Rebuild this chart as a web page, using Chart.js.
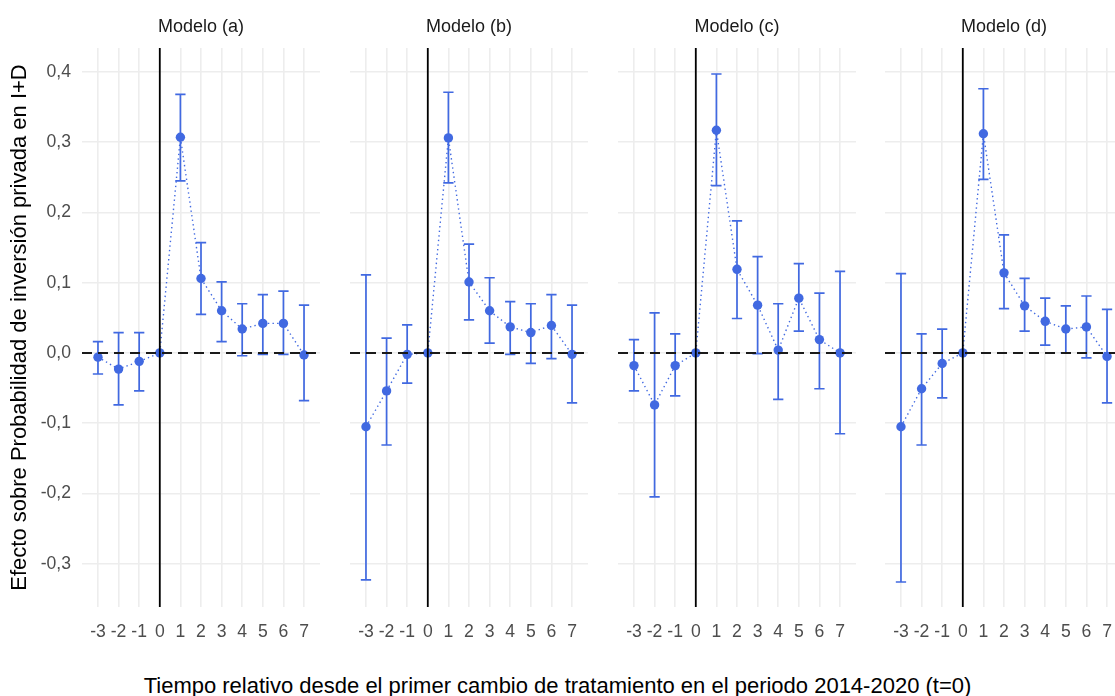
<!DOCTYPE html>
<html>
<head>
<meta charset="utf-8">
<script src="https://cdn.jsdelivr.net/npm/chart.js@4/dist/chart.umd.min.js"></script>
<style>
  html, body { margin: 0; padding: 0; background: #fff; }
  body { position: relative; width: 1115px; height: 696px; overflow: hidden;
         font-family: "Liberation Sans", Arial, sans-serif; }
  canvas { position: absolute; top: 0; }
  #xtitle { position: absolute; left: 0; top: 673px; width: 1115px; text-align: center;
            font-size: 22px; line-height: 26px; color: #000; white-space: nowrap; }
</style>
</head>
<body>
<canvas id="pa" width="320" height="660" style="left:0px"></canvas>
<canvas id="pb" width="238" height="660" style="left:350px"></canvas>
<canvas id="pc" width="238" height="660" style="left:618px"></canvas>
<canvas id="pd" width="238" height="660" style="left:885px"></canvas>
<div id="xtitle">Tiempo relativo desde el primer cambio de tratamiento en el periodo 2014-2020 (t=0)</div>
<script>
// Event-time periods and axis breaks
const periods = [-3, -2, -1, 0, 1, 2, 3, 4, 5, 6, 7];
const xTicks = [-3, -2, -1, 0, 1, 2, 3, 4, 5, 6, 7];
const yTicks = [-0.3, -0.2, -0.1, 0, 0.1, 0.2, 0.3, 0.4];
const panelTitles = ['Modelo (a)', 'Modelo (b)', 'Modelo (c)', 'Modelo (d)'];
const yTitle = 'Efecto sobre Probabilidad de inversión privada en I+D';

// Modelo (a): estimates and confidence interval bounds
const estA  = [-0.006, -0.023, -0.012, 0, 0.307, 0.106, 0.060, 0.034, 0.042, 0.042, -0.003];
const lowA  = [-0.030, -0.074, -0.054, 0, 0.245, 0.055, 0.016, -0.004, -0.002, -0.002, -0.068];
const highA = [0.016, 0.029, 0.029, 0, 0.368, 0.157, 0.101, 0.070, 0.083, 0.088, 0.068];

// Modelo (b)
const estB  = [-0.105, -0.054, -0.002, 0, 0.306, 0.101, 0.060, 0.037, 0.029, 0.039, -0.002];
const lowB  = [-0.323, -0.131, -0.043, 0, 0.242, 0.047, 0.014, -0.002, -0.015, -0.008, -0.071];
const highB = [0.111, 0.021, 0.040, 0, 0.371, 0.155, 0.107, 0.073, 0.070, 0.083, 0.068];

// Modelo (c)
const estC  = [-0.018, -0.074, -0.018, 0, 0.317, 0.119, 0.068, 0.004, 0.078, 0.019, 0.000];
const lowC  = [-0.054, -0.205, -0.061, 0, 0.238, 0.049, -0.001, -0.066, 0.031, -0.051, -0.115];
const highC = [0.019, 0.057, 0.027, 0, 0.397, 0.188, 0.137, 0.070, 0.127, 0.085, 0.116];

// Modelo (d)
const estD  = [-0.105, -0.051, -0.015, 0, 0.312, 0.114, 0.067, 0.045, 0.034, 0.037, -0.005];
const lowD  = [-0.326, -0.131, -0.064, 0, 0.247, 0.063, 0.031, 0.011, 0.000, -0.007, -0.071];
const highD = [0.113, 0.027, 0.034, 0, 0.376, 0.168, 0.106, 0.078, 0.067, 0.081, 0.062];

const BLUE = '#4169E1';
const GRID = '#EDEDED';
const FONT = '"Liberation Sans", Arial, sans-serif';

// Vertical interval whiskers with caps, drawn beneath the points
const errorBarPlugin = {
  id: 'errorBars',
  beforeDatasetsDraw(chart) {
    const { ctx, scales: { x, y } } = chart;
    const ds = chart.data.datasets[0];
    const half = Math.abs(x.getPixelForValue(0.25) - x.getPixelForValue(0));
    ctx.save();
    ctx.strokeStyle = BLUE;
    ctx.lineWidth = 1.7;
    ds.data.forEach((pt, i) => {
      const px = x.getPixelForValue(pt.x);
      const pl = y.getPixelForValue(ds.errLow[i]);
      const ph = y.getPixelForValue(ds.errHigh[i]);
      ctx.beginPath();
      ctx.moveTo(px, pl); ctx.lineTo(px, ph);
      ctx.moveTo(px - half, pl); ctx.lineTo(px + half, pl);
      ctx.moveTo(px - half, ph); ctx.lineTo(px + half, ph);
      ctx.stroke();
    });
    ctx.restore();
  }
};

// Reference lines: dashed zero effect, solid line at t = 0
const refLinesPlugin = {
  id: 'refLines',
  afterDatasetsDraw(chart) {
    const { ctx, chartArea: a, scales: { x, y } } = chart;
    const y0 = y.getPixelForValue(0);
    const x0 = x.getPixelForValue(0);
    ctx.save();
    ctx.strokeStyle = '#1a1a1a';
    ctx.lineWidth = 2;
    ctx.setLineDash([10, 6]);
    ctx.beginPath(); ctx.moveTo(a.left, y0); ctx.lineTo(a.right, y0); ctx.stroke();
    ctx.setLineDash([]);
    ctx.strokeStyle = '#000';
    ctx.lineWidth = 1.8;
    ctx.beginPath(); ctx.moveTo(x0, a.top); ctx.lineTo(x0, a.bottom); ctx.stroke();
    ctx.restore();
  }
};

function makePanel(canvasId, title, est, low, high, showY) {
  const ctx = document.getElementById(canvasId).getContext('2d');
  return new Chart(ctx, {
    type: 'scatter',
    data: {
      datasets: [{
        data: periods.map((p, i) => ({ x: p, y: est[i] })),
        errLow: low,
        errHigh: high,
        showLine: true,
        borderColor: BLUE,
        borderWidth: 1.4,
        borderDash: [1.4, 3.2],
        tension: 0,
        pointRadius: 4.7,
        pointBackgroundColor: BLUE,
        pointBorderWidth: 0
      }]
    },
    options: {
      responsive: false,
      animation: false,
      devicePixelRatio: 1,
      layout: { padding: 0, autoPadding: false },
      plugins: {
        legend: { display: false },
        tooltip: { enabled: false },
        title: {
          display: true,
          text: title,
          fullSize: false,
          color: '#1A1A1A',
          font: { family: FONT, size: 18, weight: 'normal', lineHeight: 1.2 },
          padding: { top: 16, bottom: 10.4 }
        }
      },
      scales: {
        x: {
          type: 'linear',
          min: -3.775,
          max: 7.775,
          afterBuildTicks: s => { s.ticks = xTicks.map(v => ({ value: v })); },
          afterFit: s => { s.height = 53; s.paddingLeft = 0; s.paddingRight = 0; },
          grid: { color: GRID, lineWidth: 1.6, drawTicks: false },
          border: { display: false },
          ticks: {
            autoSkip: false, maxRotation: 0, minRotation: 0, padding: 15,
            color: '#4D4D4D', font: { family: FONT, size: 17.6 },
            callback: v => String(v)
          }
        },
        y: {
          type: 'linear',
          min: -0.3616,
          max: 0.434,
          afterBuildTicks: s => { s.ticks = yTicks.map(v => ({ value: v })); },
          afterFit: s => { s.width = showY ? 82 : 0; s.paddingTop = 0; s.paddingBottom = 0; },
          grid: { color: GRID, lineWidth: 1.6, drawTicks: false },
          border: { display: false },
          title: {
            display: showY,
            text: yTitle,
            color: '#000',
            font: { family: FONT, size: 22, lineHeight: 1.2 },
            padding: { top: 7, bottom: 0 }
          },
          ticks: {
            display: showY,
            padding: 11,
            color: '#4D4D4D',
            font: { family: FONT, size: 17.6 },
            callback: v => v.toFixed(1).replace('.', ',')
          }
        }
      }
    },
    plugins: [errorBarPlugin, refLinesPlugin]
  });
}

makePanel('pa', panelTitles[0], estA, lowA, highA, true);
makePanel('pb', panelTitles[1], estB, lowB, highB, false);
makePanel('pc', panelTitles[2], estC, lowC, highC, false);
makePanel('pd', panelTitles[3], estD, lowD, highD, false);
</script>
</body>
</html>
